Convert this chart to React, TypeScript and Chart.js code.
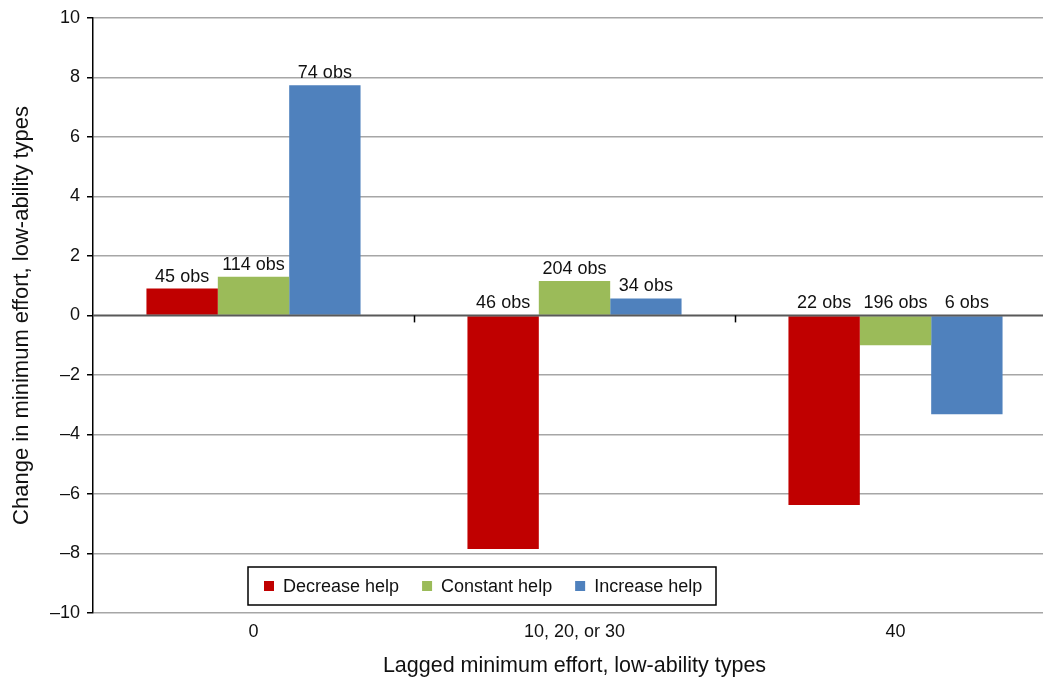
import React, { useEffect, useRef } from 'react';
import { Chart, registerables } from 'chart.js';

Chart.register(...registerables);

const categories = ['0', '10, 20, or 30', '40'];
const seriesNames = ['Decrease help', 'Constant help', 'Increase help'];
const decreaseHelp = [0.9, -7.85, -6.37];
const constantHelp = [1.3, 1.16, -1.0];
const increaseHelp = [7.73, 0.57, -3.32];
const decreaseObs = [45, 46, 22];
const constantObs = [114, 204, 196];
const increaseObs = [74, 34, 6];
const yMin = -10;
const yMax = 10;
const yStep = 2;
const xTitle = 'Lagged minimum effort, low-ability types';
const yTitle = 'Change in minimum effort, low-ability types';

const FONT = "'Liberation Sans', Arial, Helvetica, sans-serif";
const TEXT = '#111111';
const colors = ['#C00000', '#9BBB59', '#4F81BD'];

const CANVAS_W = 1060;
const CANVAS_H = 683;

const obsLabelsPlugin = {
  id: 'obsLabels',
  afterDatasetsDraw(chart: any) {
    const ctx = chart.ctx;
    const obs = [decreaseObs, constantObs, increaseObs];
    const yScale = chart.scales.y;
    const zeroY = yScale.getPixelForValue(0);
    // zero line
    ctx.save();
    ctx.strokeStyle = '#595959';
    ctx.lineWidth = 2;
    ctx.beginPath();
    ctx.moveTo(chart.chartArea.left, zeroY);
    ctx.lineTo(chart.chartArea.right, zeroY);
    ctx.stroke();
    // category boundary tick marks on zero line
    const xScale = chart.scales.x;
    ctx.strokeStyle = '#000';
    ctx.lineWidth = 1.5;
    for (let i = 0; i < categories.length - 1; i++) {
      const bx = (xScale.getPixelForValue(i) + xScale.getPixelForValue(i + 1)) / 2;
      ctx.beginPath();
      ctx.moveTo(Math.round(bx) + 0.5, zeroY);
      ctx.lineTo(Math.round(bx) + 0.5, zeroY + 7);
      ctx.stroke();
    }
    // labels
    ctx.font = `18px ${FONT}`;
    ctx.fillStyle = TEXT;
    ctx.textAlign = 'center';
    ctx.textBaseline = 'alphabetic';
    chart.data.datasets.forEach((ds: any, di: number) => {
      const meta = chart.getDatasetMeta(di);
      meta.data.forEach((bar: any, j: number) => {
        const v = ds.data[j];
        const top = v >= 0 ? bar.y : zeroY;
        ctx.fillText(`${obs[di][j]} obs`, bar.x, top - 7);
      });
    });
    ctx.restore();
  },
};

const legendBoxPlugin = {
  id: 'legendBox',
  afterDraw(chart: any) {
    const ctx = chart.ctx;
    const x0 = 248;
    const y0 = 567;
    const w = 468;
    const h = 38;
    ctx.save();
    ctx.fillStyle = '#ffffff';
    ctx.fillRect(x0, y0, w, h);
    ctx.strokeStyle = '#000';
    ctx.lineWidth = 1.5;
    ctx.strokeRect(x0, y0, w, h);
    ctx.font = `18px ${FONT}`;
    ctx.textAlign = 'left';
    ctx.textBaseline = 'middle';
    let x = x0 + 16;
    const cy = y0 + h / 2;
    seriesNames.forEach((name, i) => {
      ctx.fillStyle = colors[i];
      ctx.fillRect(x, cy - 5, 10, 10);
      ctx.fillStyle = TEXT;
      ctx.fillText(name, x + 19, cy + 1);
      x += 19 + ctx.measureText(name).width + 23;
    });
    ctx.restore();
  },
};

export default function App() {
  const canvasRef = useRef<HTMLCanvasElement | null>(null);

  useEffect(() => {
    if (!canvasRef.current) return;
    const chart = new Chart(canvasRef.current, {
      type: 'bar',
      data: {
        labels: categories,
        datasets: [
          { label: seriesNames[0], data: decreaseHelp, backgroundColor: colors[0] },
          { label: seriesNames[1], data: constantHelp, backgroundColor: colors[1] },
          { label: seriesNames[2], data: increaseHelp, backgroundColor: colors[2] },
        ],
      },
      options: {
        responsive: false,
        animation: false,
        devicePixelRatio: 1,
        layout: { padding: { top: 15, right: 4, bottom: 0, left: 0 } },
        datasets: {
          bar: { categoryPercentage: 0.667, barPercentage: 1.0, borderWidth: 0 },
        },
        plugins: {
          legend: { display: false },
          tooltip: { enabled: false },
        },
        scales: {
          x: {
            grid: { display: false, drawTicks: false },
            border: { display: false },
            ticks: { color: TEXT, font: { family: FONT, size: 18 }, padding: 8, maxRotation: 0 },
            title: {
              display: true,
              text: xTitle,
              color: TEXT,
              font: { family: FONT, size: 21.5 },
              padding: { top: 0, bottom: 4 },
            },
            afterFit(scale: any) {
              scale.height = 70;
            },
          },
          y: {
            min: yMin,
            max: yMax,
            ticks: {
              stepSize: yStep,
              color: TEXT,
              font: { family: FONT, size: 18 },
              padding: 7,
              callback: (v: any) => (Number(v) < 0 ? '\u2013' + Math.abs(Number(v)) : String(v)),
            },
            grid: {
              color: (c: any) => (c.tick && c.tick.value === 0 ? 'rgba(0,0,0,0)' : '#a6a6a6'),
              lineWidth: 1.5,
              tickColor: '#000',
              tickLength: 6,
              drawTicks: true,
            },
            border: { display: true, color: '#000', width: 1.5 },
            title: {
              display: true,
              text: yTitle,
              color: TEXT,
              font: { family: FONT, size: 22 },
              padding: { top: 9, bottom: 0 },
            },
            afterFit(scale: any) {
              scale.width = 93;
            },
          },
        },
      },
      plugins: [obsLabelsPlugin, legendBoxPlugin],
    });
    return () => chart.destroy();
  }, []);

  return (
    <div
      style={{
        position: 'fixed',
        left: 0,
        top: 0,
        width: 1043,
        height: 683,
        overflow: 'hidden',
        background: '#ffffff',
      }}
    >
      <canvas
        ref={canvasRef}
        width={CANVAS_W}
        height={CANVAS_H}
        style={{ display: 'block', width: CANVAS_W, height: CANVAS_H }}
      />
    </div>
  );
}
